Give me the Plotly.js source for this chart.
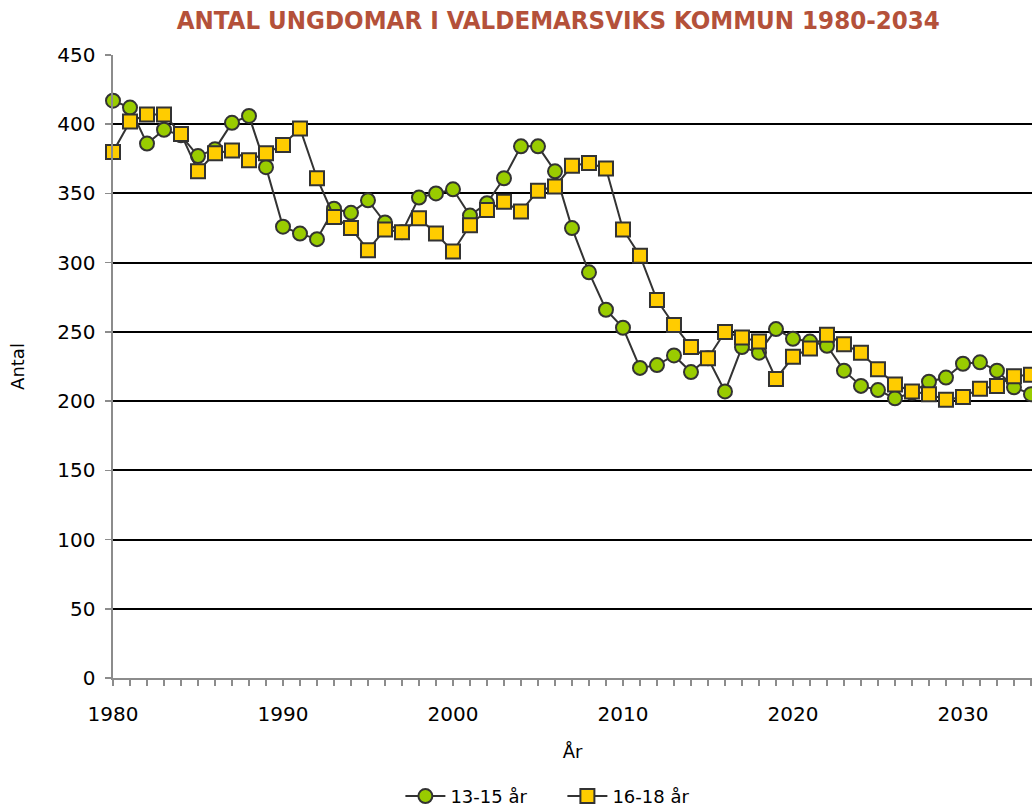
<!DOCTYPE html>
<html>
<head>
<meta charset="utf-8">
<script src="https://cdn.plot.ly/plotly-3.0.1.min.js"></script>
<style>html,body{margin:0;padding:0;background:#fff;}#chart{width:1032px;height:811px;}</style>
</head>
<body>
<div id="chart"></div>
<script>
const years = [1980,1981,1982,1983,1984,1985,1986,1987,1988,1989,1990,1991,1992,1993,1994,1995,1996,1997,1998,1999,2000,2001,2002,2003,2004,2005,2006,2007,2008,2009,2010,2011,2012,2013,2014,2015,2016,2017,2018,2019,2020,2021,2022,2023,2024,2025,2026,2027,2028,2029,2030,2031,2032,2033,2034];
const age13_15 = [417,412,386,396,392,377,382,401,406,369,326,321,317,339,336,345,329,322,347,350,353,334,343,361,384,384,366,325,293,266,253,224,226,233,221,231,207,239,235,252,245,243,240,222,211,208,202,206,214,217,227,228,222,210,205];
const age16_18 = [380,402,407,407,393,366,379,381,374,379,385,397,361,333,325,309,324,322,332,321,308,327,338,344,337,352,355,370,372,368,324,305,273,255,239,231,250,246,243,216,232,238,248,241,235,223,212,207,205,201,203,209,211,218,219];
const seriesNames = ["13-15 år", "16-18 år"];
const titleText = "ANTAL UNGDOMAR I VALDEMARSVIKS KOMMUN 1980-2034";

const baseFont = "DejaVu Sans, Verdana, sans-serif";
const tickFont = {family: baseFont, size: 20, color: "#000"};

const traces = [
  {x: years, y: age13_15, name: seriesNames[0], type: "scatter", mode: "lines+markers",
   cliponaxis: false,
   line: {color: "#333333", width: 2},
   marker: {symbol: "circle", size: 14, color: "#99CC00", line: {color: "#333333", width: 2}}},
  {x: years, y: age16_18, name: seriesNames[1], type: "scatter", mode: "lines+markers",
   cliponaxis: false,
   line: {color: "#333333", width: 2},
   marker: {symbol: "square", size: 14, color: "#FFCC00", line: {color: "#333333", width: 2}}}
];

const layout = {
  width: 1032, height: 811,
  margin: {l: 113, r: 0, t: 55, b: 133, autoexpand: false},
  paper_bgcolor: "#fff", plot_bgcolor: "#fff",
  showlegend: true,
  title: {text: titleText, x: 0.541, xanchor: "center", y: 0.975, yanchor: "middle",
          font: {family: "Liberation Sans Narrow, DejaVu Sans Condensed, Arial Narrow, sans-serif", size: 25.6, color: "#B4513A", weight: "bold"}},
  xaxis: {
    range: [1980, 2034.06], dtick: 10, tick0: 1980, automargin: false,
    showgrid: false, zeroline: false,
    showline: true, linecolor: "#8c8c8c", linewidth: 2,
    ticks: "outside", ticklen: 6, tickcolor: "#8c8c8c", tickwidth: 1.5,
    ticklabelstandoff: 11,
    minor: {dtick: 1, ticks: "outside", ticklen: 6, tickcolor: "#8c8c8c", tickwidth: 1.5, showgrid: false},
    tickfont: tickFont,
    title: {text: "År", font: {family: baseFont, size: 18, color: "#000"}, standoff: 20}
  },
  yaxis: {
    range: [0, 450], dtick: 50, automargin: false,
    showgrid: true, gridcolor: "#000", gridwidth: 2,
    zeroline: false,
    showline: true, linecolor: "#8c8c8c", linewidth: 2.5,
    ticks: "outside", ticklen: 6, tickcolor: "#8c8c8c", tickwidth: 1.5,
    ticklabelstandoff: 5,
    tickfont: tickFont,
    title: {text: "Antal", font: {family: baseFont, size: 18, color: "#000"}, standoff: 28}
  },
  legend: {orientation: "h", x: 0.489, xanchor: "center", yref: "container", y: 0.018, yanchor: "middle",
           font: {family: baseFont, size: 18, color: "#000"},
           itemwidth: 40, entrywidth: 107, tracegroupgap: 0}
};

Plotly.newPlot("chart", traces, layout, {displayModeBar: false, staticPlot: true});
</script>
</body>
</html>
